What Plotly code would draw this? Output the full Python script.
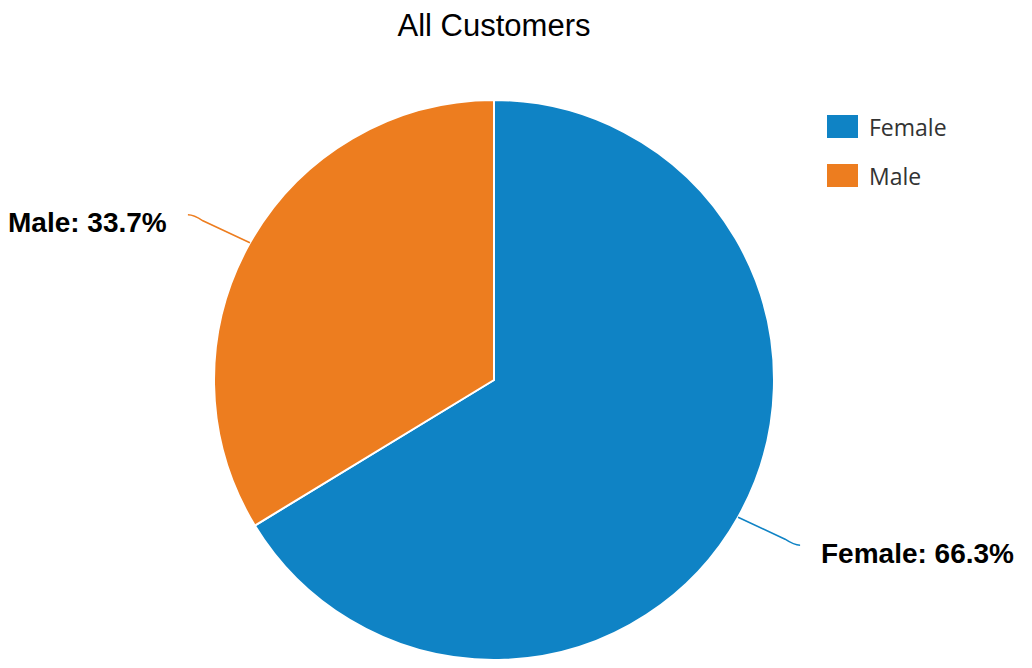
import math
import plotly.graph_objects as go

# ---- data ----
categories = ["Female", "Male"]
shares = [66.3, 33.7]
colors = ["#0f83c5", "#ed7d1f"]
title_text = "All Customers"

W, H = 1032, 668
OFF = 8  # page offset of the figure
CX, CY, R = 494, 380, 280  # pie centre / radius in page pixels


def px(x):
    return (x - OFF) / W


def py(y):
    return 1 - (y - OFF) / H


fig = go.Figure(go.Pie(
    labels=categories,
    values=shares,
    marker=dict(colors=colors, line=dict(color="white", width=2)),
    sort=False,
    direction="clockwise",
    rotation=0,
    textinfo="none",
    hoverinfo="label+percent",
    showlegend=False,
    domain=dict(x=[px(CX - R), px(CX + R)], y=[py(CY + R), py(CY - R)]),
))

shapes = []
annotations = []
total = sum(shares)
cum = 0.0
for cat, val, col in zip(categories, shares, colors):
    mid = (cum + val / 2) / total * 2 * math.pi
    cum += val
    x0 = CX + R * math.sin(mid)
    y0 = CY - R * math.cos(mid)
    s = 1 if math.sin(mid) >= 0 else -1
    v = 1 if math.cos(mid) < 0 else -1
    xa, ya = x0 + s * 47, y0 + v * 22
    xc, yc = x0 + s * 56, y0 + v * 28
    xe, ye = x0 + s * 62, y0 + v * 28
    path = (f"M {px(x0)},{py(y0)} L {px(xa)},{py(ya)} "
            f"Q {px(xc)},{py(yc)} {px(xe)},{py(ye)}")
    shapes.append(dict(type="path", xref="paper", yref="paper", path=path,
                       line=dict(color=col, width=1.5)))
    pct = val / total * 100
    annotations.append(dict(
        x=px(xe + s * 19), y=py(ye + 8), xref="paper", yref="paper",
        text=f"<b>{cat}: {pct:.1f}%</b>", showarrow=False,
        xanchor="left" if s > 0 else "right", yanchor="middle",
        font=dict(family="Liberation Sans, Arial", size=28, color="#000000"),
    ))

# legend (drawn)
for i, (cat, col) in enumerate(zip(categories, colors)):
    top = 115 + i * 49
    shapes.append(dict(type="rect", xref="paper", yref="paper",
                       x0=px(827), x1=px(858), y0=py(top + 23), y1=py(top),
                       fillcolor=col, line=dict(width=0)))
    annotations.append(dict(
        x=px(867), y=py(top + 12), xref="paper", yref="paper", text=cat,
        showarrow=False, xanchor="left", yanchor="middle",
        font=dict(family="Open Sans", size=23, color="#333333"),
    ))

fig.update_layout(
    width=W, height=H,
    margin=dict(l=0, r=0, t=0, b=0),
    paper_bgcolor="white", plot_bgcolor="white",
    title=dict(text=title_text, x=px(494), xanchor="center",
               y=py(25), yanchor="middle",
               font=dict(family="Liberation Sans, Arial", size=31, color="#000000")),
    shapes=shapes,
    annotations=annotations,
)

fig.write_html("out.html")
